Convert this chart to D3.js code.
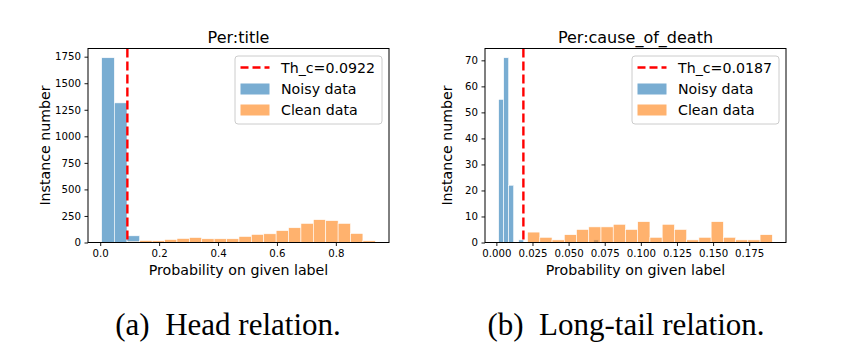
<!DOCTYPE html>
<html>
<head>
<meta charset="utf-8">
<script src="https://cdn.jsdelivr.net/npm/d3@7"></script>
<style>
  body { margin: 0; background: #fff; }
  text { font-family: 'DejaVu Sans', sans-serif; fill: #000; }
  .caption { font-family: 'Liberation Serif', 'Times New Roman', serif; font-size: 31px; }
</style>
</head>
<body>
<svg id="chart" width="849" height="364"></svg>
<script>
// ---- data ----
// (a) Per:title
const titleA = 'Per:title';
const threshA = 0.0922;
const noisyRangeA = [0.005, 0.865];
const noisyCountsA = [1740, 1315, 63, 8, 0, 5, 0, 5, 0, 5, 0, 0, 5, 0, 0, 0, 0, 0, 0, 0];
const cleanRangeA = [0.0922, 0.934];
const cleanCountsA = [8, 19, 16, 28, 38, 47, 35, 35, 35, 57, 76, 82, 112, 139, 180, 215, 206, 180, 85, 16];
const xTicksA = [0, 0.2, 0.4, 0.6, 0.8];
const yTicksA = [0, 250, 500, 750, 1000, 1250, 1500, 1750];

// (b) Per:cause_of_death
const titleB = 'Per:cause_of_death';
const threshB = 0.0187;
const noisyRangeB = [0.0016, 0.0708];
const noisyCountsB = [55, 71, 22, 0, 1, 0, 0, 0, 0, 0, 0, 0, 0, 0, 0, 0, 0, 0, 0, 1];
const cleanRangeB = [0.0216, 0.191];
const cleanCountsB = [4, 2, 1, 3, 5, 6, 6, 7, 5, 8, 2, 7, 5, 1, 2, 8, 2, 1, 1, 3];
const xTicksB = [0, 0.025, 0.05, 0.075, 0.1, 0.125, 0.15, 0.175];
const yTicksB = [0, 10, 20, 30, 40, 50, 60, 70];

const xLabel = 'Probability on given label';
const yLabel = 'Instance number';
const legendLabels = ['Noisy data', 'Clean data'];
const captions = ['(a)\u00a0 Head relation.', '(b)\u00a0 Long-tail relation.'];

const blue = '#1f77b4';
const orange = '#ff7f0e';

const svg = d3.select('#chart');
svg.append('rect').attr('width', 849).attr('height', 364).attr('fill', '#fff');

// turn a range + counts into bins
function toBins(range, counts) {
    const w = (range[1] - range[0]) / counts.length;
    return counts.map((c, i) => ({x0: range[0] + i * w, x1: range[0] + (i + 1) * w, n: c}));
}

function drawPanel(p) {
    const left = p.left, top = 48.5, width = 301, height = 194;
    const g = svg.append('g').attr('transform', `translate(${left}, ${top})`);

    const noisy = toBins(p.noisyRange, p.noisyCounts);
    const clean = toBins(p.cleanRange, p.cleanCounts);
    const all = noisy.concat(clean);

    const lo = d3.min(all, d => d.x0), hi = d3.max(all, d => d.x1);
    const pad = (hi - lo) * 0.05;
    const x = d3.scaleLinear().domain([lo - pad, hi + pad]).range([0, width]);
    const y = d3.scaleLinear().domain([0, d3.max(all, d => d.n) * 1.05]).range([height, 0]);

    // bars
    [[noisy, blue], [clean, orange]].forEach(([bins, col]) => {
        g.append('g').selectAll('rect')
            .data(bins.filter(d => d.n > 0))
            .enter().append('rect')
                .attr('x', d => x(d.x0))
                .attr('y', d => y(d.n))
                .attr('width', d => x(d.x1) - x(d.x0))
                .attr('height', d => y(0) - y(d.n))
                .attr('fill', col)
                .attr('fill-opacity', 0.6)
                .attr('stroke', '#fff')
                .attr('stroke-width', 0.6);
    });

    // threshold line
    g.append('line')
        .attr('x1', x(p.thresh)).attr('x2', x(p.thresh))
        .attr('y1', 0).attr('y2', height)
        .attr('stroke', 'red')
        .attr('stroke-width', 2.4)
        .attr('stroke-dasharray', '9,4');

    // axes
    const xAxis = d3.axisBottom(x).tickValues(p.xTicks).tickFormat(d3.format(p.xFmt))
        .tickSizeInner(3.5).tickSizeOuter(0).tickPadding(3.5);
    const yAxis = d3.axisLeft(y).tickValues(p.yTicks).tickFormat(d3.format('d'))
        .tickSizeInner(3.5).tickSizeOuter(0).tickPadding(3.5);
    const xg = g.append('g').attr('transform', `translate(0, ${height})`).call(xAxis);
    const yg = g.append('g').call(yAxis);
    [xg, yg].forEach(a => {
        a.select('.domain').remove();
        a.selectAll('.tick line').attr('stroke', '#000').attr('stroke-width', 0.9);
        a.selectAll('text').style('font-size', '10.2px').attr('fill', '#000');
    });

    // frame
    g.append('rect')
        .attr('width', width).attr('height', height)
        .attr('fill', 'none').attr('stroke', '#000').attr('stroke-width', 1);

    // title + labels
    g.append('text')
        .attr('x', width / 2).attr('y', -5.5)
        .attr('text-anchor', 'middle')
        .style('font-size', '16px')
        .text(p.title);
    g.append('text')
        .attr('x', width / 2).attr('y', height + 32)
        .attr('text-anchor', 'middle')
        .style('font-size', '14.2px')
        .text(xLabel);
    g.append('text')
        .attr('transform', `translate(${p.yLabelX - left}, ${height / 2}) rotate(-90)`)
        .attr('text-anchor', 'middle')
        .style('font-size', '14.2px')
        .text(yLabel);

    // legend
    const lg = g.append('g').attr('transform', `translate(${width - 154}, 7.5)`);
    lg.append('rect')
        .attr('width', 147).attr('height', 68).attr('rx', 3)
        .attr('fill', '#fff').attr('fill-opacity', 0.8)
        .attr('stroke', '#cccccc').attr('stroke-width', 1);
    lg.append('line')
        .attr('x1', 5.5).attr('x2', 34.5).attr('y1', 11.5).attr('y2', 11.5)
        .attr('stroke', 'red').attr('stroke-width', 2.4)
        .attr('stroke-dasharray', '8,4');
    [blue, orange].forEach((c, i) => {
        lg.append('rect')
            .attr('x', 5.5).attr('y', 27.5 + i * 21)
            .attr('width', 29).attr('height', 11)
            .attr('fill', c).attr('fill-opacity', 0.6);
    });
    const labels = ['Th_c=' + p.thresh].concat(legendLabels);
    lg.selectAll('text.leg').data(labels).enter().append('text')
        .attr('class', 'leg')
        .attr('x', 46).attr('y', (d, i) => 17 + i * 21)
        .style('font-size', '14.2px')
        .text(d => d);

    // caption
    svg.append('text')
        .attr('class', 'caption')
        .attr('x', p.captionX).attr('y', 335)
        .attr('text-anchor', 'middle')
        .text(p.caption);
}

drawPanel({left: 88, title: titleA, thresh: threshA, noisyRange: noisyRangeA, noisyCounts: noisyCountsA,
    cleanRange: cleanRangeA, cleanCounts: cleanCountsA, xTicks: xTicksA, yTicks: yTicksA, xFmt: '.1f',
    yLabelX: 50, caption: captions[0], captionX: 228});
drawPanel({left: 485, title: titleB, thresh: threshB, noisyRange: noisyRangeB, noisyCounts: noisyCountsB,
    cleanRange: cleanRangeB, cleanCounts: cleanCountsB, xTicks: xTicksB, yTicks: yTicksB, xFmt: '.3f',
    yLabelX: 452, caption: captions[1], captionX: 626});
</script>
</body>
</html>
